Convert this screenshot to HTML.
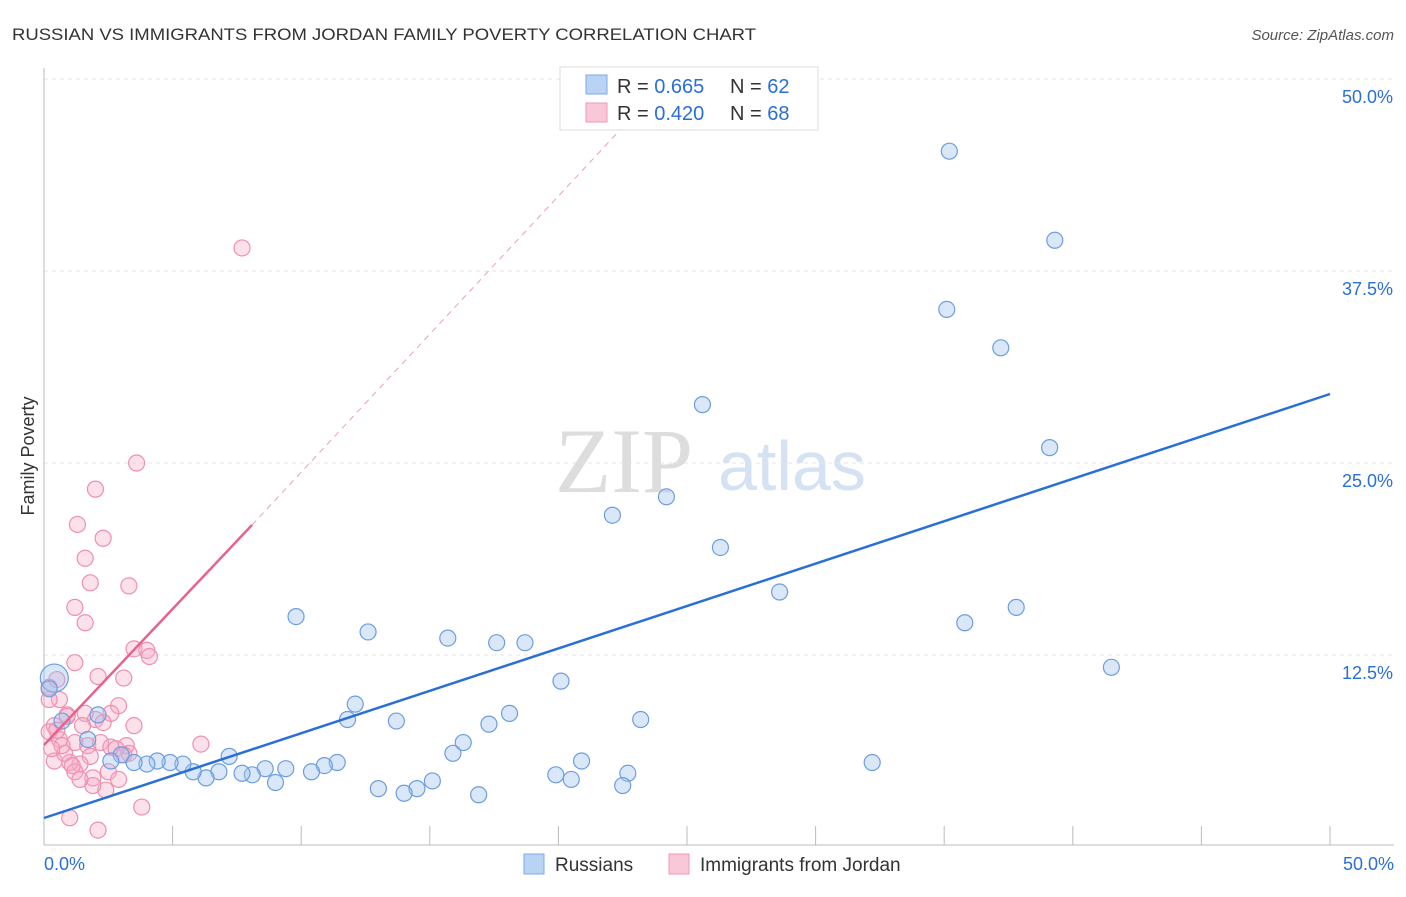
<!DOCTYPE html>
<html><head><meta charset="utf-8"><style>
body{margin:0;background:#fff;font-family:"Liberation Sans",sans-serif}
</style></head><body>
<svg id="chart" width="1406" height="892" xmlns="http://www.w3.org/2000/svg">
<text x="12" y="40" font-size="17" fill="#333" textLength="744" lengthAdjust="spacingAndGlyphs">RUSSIAN VS IMMIGRANTS FROM JORDAN FAMILY POVERTY CORRELATION CHART</text>
<text x="1394" y="40" font-size="15" fill="#555" text-anchor="end" font-style="italic">Source: ZipAtlas.com</text>
<text transform="translate(34,456) rotate(-90)" font-size="18" fill="#333" text-anchor="middle">Family Poverty</text>
<text x="555" y="492" font-size="92" fill="#ddd" font-family="Liberation Serif,serif">ZIP</text>
<text x="718" y="490" font-size="70" fill="#d4e2f4">atlas</text>
<g id="grid"></g><g id="marks"></g>
<g>
<rect x="560" y="67" width="258" height="63" fill="#fff" stroke="#ddd"/>
<rect x="586" y="75" width="21" height="19" fill="#b9d3f5" stroke="#7fa9e3"/>
<rect x="586" y="103" width="21" height="19" fill="#f9c8d8" stroke="#ef97b6"/>
<text x="617" y="93" font-size="20" fill="#333">R = <tspan fill="#2a6fd6">0.665</tspan></text>
<text x="730" y="93" font-size="20" fill="#333">N = <tspan fill="#2a6fd6">62</tspan></text>
<text x="617" y="120" font-size="20" fill="#333">R = <tspan fill="#2a6fd6">0.420</tspan></text>
<text x="730" y="120" font-size="20" fill="#333">N = <tspan fill="#2a6fd6">68</tspan></text>
</g>
<g>
<rect x="524" y="854" width="20" height="20" fill="#b9d3f5" stroke="#7fa9e3"/>
<text x="555" y="871" font-size="19" fill="#333">Russians</text>
<rect x="669" y="854" width="20" height="20" fill="#f9c8d8" stroke="#ef97b6"/>
<text x="700" y="871" font-size="19" fill="#333">Immigrants from Jordan</text>
</g>
</svg>
<script>
const yTicks=[12.5,25,37.5,50];
const yTickLabels=["12.5%","25.0%","37.5%","50.0%"];
const xTickLabels=["0.0%","50.0%"];
const russiansX=[35.2,39.3,35.1,37.2,25.6,39.1,24.2,22.1,26.3,28.6,37.8,35.8,9.8,12.6,15.7,17.6,18.7,41.5,20.1,12.1,11.8,13.7,17.3,18.1,23.2,16.3,15.9,20.9,22.7,19.9,20.5,22.5,32.2,15.1,14.5,14.0,13.0,16.9,11.4,10.9,10.4,9.4,8.6,9.0,8.1,7.7,7.2,6.8,6.3,5.8,5.4,4.9,4.4,4.0,3.5,3.0,2.6,2.1,1.7,0.4,0.2,0.7];
const russiansY=[45.3,39.5,35.0,32.5,28.8,26.0,22.8,21.6,19.5,16.6,15.6,14.6,15.0,14.0,13.6,13.3,13.3,11.7,10.8,9.3,8.3,8.2,8.0,8.7,8.3,6.8,6.1,5.6,4.8,4.7,4.4,4.0,5.5,4.3,3.8,3.5,3.8,3.4,5.5,5.3,4.9,5.1,5.1,4.2,4.7,4.8,5.9,4.9,4.5,4.9,5.4,5.5,5.6,5.4,5.5,6.0,5.6,8.6,7.0,11.0,10.3,8.2];
const jordanX=[7.7,3.6,2.0,1.3,2.3,1.6,1.8,3.3,1.2,1.6,3.5,4.0,4.1,1.2,2.1,3.1,0.5,0.2,2.9,3.5,6.1,2.6,2.0,1.6,0.9,0.4,0.2,0.6,1.2,1.7,2.2,2.6,3.2,3.3,1.8,1.4,1.0,0.4,0.8,1.2,1.9,2.5,2.9,2.4,1.9,1.4,1.1,0.7,0.3,3.8,1.0,2.1,0.6,0.9,1.5,0.5,2.3,2.8,3.1,0.2];
const jordanY=[39.0,25.0,23.3,21.0,20.1,18.8,17.2,17.0,15.6,14.6,12.9,12.8,12.4,12.0,11.1,11.0,10.9,10.4,9.2,7.9,6.7,8.7,8.3,8.7,8.6,7.9,7.5,7.0,6.8,6.6,6.8,6.5,6.6,6.1,5.9,5.4,5.5,5.6,6.1,4.9,4.5,4.9,4.4,3.7,4.0,4.4,5.3,6.6,6.4,2.6,1.9,1.1,9.6,8.5,7.9,7.6,8.1,6.4,6.0,9.6];
const X=v=>44+v/50*1286, Y=v=>847-v/12.5*192;
const NS="http://www.w3.org/2000/svg";
const grid=document.getElementById('grid'), marks=document.getElementById('marks');
function mk(tag,attrs,parent){const e=document.createElementNS(NS,tag);for(const k in attrs)e.setAttribute(k,attrs[k]);parent.appendChild(e);return e;}
yTicks.forEach((t,i)=>{
 const l=mk('line',{x1:44,x2:1394,y1:Y(t),y2:Y(t),stroke:'#e4e4e4','stroke-dasharray':'4,4'},grid);
 
 
 const tx=mk('text',{x:1393,y:Y(t)+24,'font-size':18,fill:'#2a6fd6','text-anchor':'end'},grid);
 tx.textContent=yTickLabels[i];
 
 
});
const ax=mk('line',{x1:44,x2:1394,y1:845,y2:845,stroke:'#bbb'},grid);


const ay=mk('line',{x1:44,x2:44,y1:68,y2:845,stroke:'#bbb'},grid);


for(let i=0;i<=10;i++){const t=mk('line',{x1:X(i*5),x2:X(i*5),y1:826,y2:845,stroke:'#bbb'},grid);
 
 }
xTickLabels.forEach((s,i)=>{const t=mk('text',{x:i?1394:44,y:870,'font-size':18,fill:'#2a6fd6','text-anchor':i?'end':'start'},grid);t.textContent=s;
 
 });
jordanX.forEach((x,i)=>{const c=mk('circle',{cx:X(x),cy:Y(jordanY[i]),r:8,fill:'rgba(246,170,195,0.35)',stroke:'#ef8fb0','stroke-width':1.2},marks);
 
 });
russiansX.forEach((x,i)=>{const c=mk('circle',{cx:X(x),cy:Y(russiansY[i]),r:i==59?14:8,fill:'rgba(160,195,240,0.4)',stroke:'#6d9de0','stroke-width':1.2},marks);
 
 });
const b=mk('line',{x1:X(0),y1:818,x2:X(50),y2:394,stroke:'#2a6fd6','stroke-width':2.5},marks);


const pd=mk('line',{x1:252,y1:525,x2:620,y2:130,stroke:'#e8a0b8','stroke-width':1,'stroke-dasharray':'6,5'},marks);


const p=mk('line',{x1:44,y1:745,x2:252,y2:525,stroke:'#e8628f','stroke-width':2.5},marks);


</script>
</body></html>
